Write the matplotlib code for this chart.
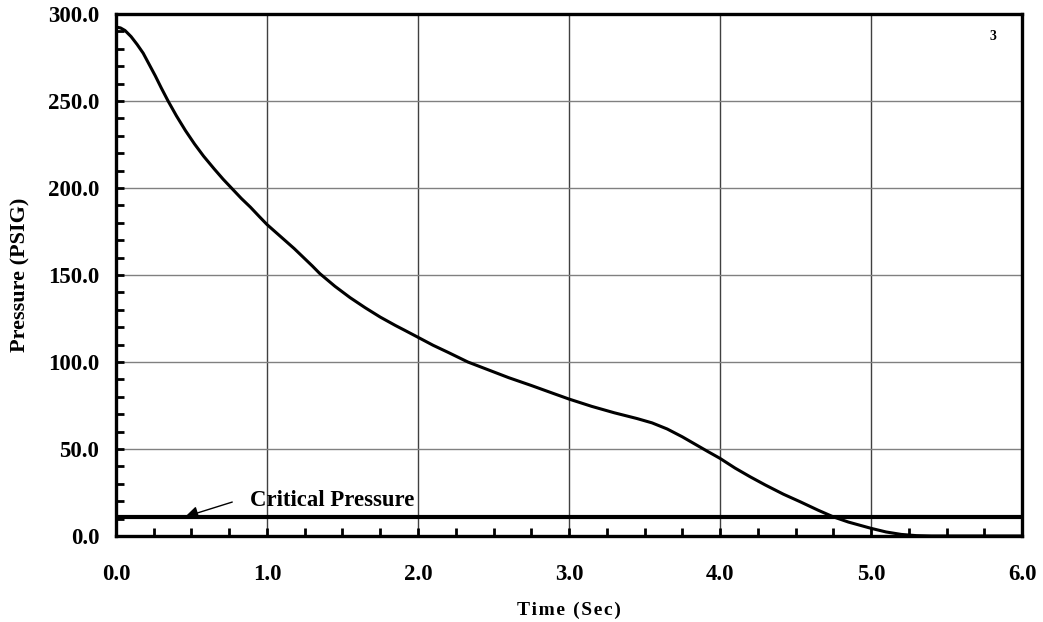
import numpy as np
import matplotlib.pyplot as plt
from matplotlib.ticker import MultipleLocator, FormatStrFormatter

# pressure decay readings
time_sec = [0.0, 0.03, 0.06, 0.10, 0.14, 0.18, 0.22, 0.26, 0.30, 0.345, 0.40,
            0.46, 0.52, 0.58, 0.65, 0.71, 0.77, 0.83, 0.89, 0.95, 1.0, 1.06,
            1.12, 1.18, 1.24, 1.30, 1.35, 1.45, 1.55, 1.65, 1.75, 1.85, 1.91,
            2.0, 2.1, 2.2, 2.33, 2.45, 2.6, 2.75, 2.9, 3.0, 3.15, 3.3, 3.45,
            3.55, 3.65, 3.75, 3.85, 3.92, 4.0, 4.1, 4.2, 4.3, 4.42, 4.53, 4.65,
            4.75, 4.85, 5.0, 5.1, 5.2, 5.3, 5.4, 6.0]
pressure_psig = [292.5, 292, 290.5, 287, 282.5, 277.5, 271, 264.5, 257.5, 250, 241.5,
                 233, 225.3, 218.3, 211, 205, 199.5, 194, 189, 183.5, 179, 174.4,
                 169.8, 165.2, 160.2, 155.2, 150.8, 143.5, 137, 131.2, 125.8, 121, 118.3,
                 114.2, 109.6, 105.5, 100, 96, 91, 86.5, 81.8, 78.7, 74.5, 70.8, 67.5,
                 65, 61.5, 57, 52, 48.5, 44.6, 39, 34, 29.3, 24, 19.7, 14.8,
                 11, 8, 4.4, 2.3, 0.9, 0.2, 0, 0]
critical_pressure = 11.0

plt.rcParams['font.family'] = ['Liberation Serif', 'DejaVu Serif']
plt.rcParams['font.weight'] = 'bold'

fig = plt.figure(figsize=(10.43, 6.22), dpi=100)
ax = fig.add_axes([0.1112, 0.1383, 0.8687, 0.8392])

ax.grid(True, axis='y', color='#808080', lw=1.0)
ax.grid(True, axis='x', color='#404040', lw=1.0)
ax.set_axisbelow(True)

ax.axhline(critical_pressure, color='black', lw=3.0, zorder=3)
ax.plot(time_sec, pressure_psig, color='black', lw=2.2, zorder=4,
        solid_joinstyle='round')

ax.annotate('', xy=(0.457, critical_pressure), xytext=(0.77, 19.5),
            arrowprops=dict(arrowstyle='-|>', color='black', lw=1.0,
                            mutation_scale=20, shrinkA=0, shrinkB=0), zorder=5)
ax.text(0.887, 20.6, 'Critical Pressure', fontsize=16.4, fontweight='bold',
        va='center', ha='left')
ax.text(5.81, 287, '3', fontsize=10, fontweight='bold', va='center', ha='center')

ax.set_xlim(0, 6)
ax.set_ylim(0, 300)
ax.xaxis.set_major_locator(MultipleLocator(1.0))
ax.xaxis.set_minor_locator(MultipleLocator(0.25))
ax.yaxis.set_major_locator(MultipleLocator(50))
ax.yaxis.set_minor_locator(MultipleLocator(10))
ax.xaxis.set_major_formatter(FormatStrFormatter('%.1f'))
ax.yaxis.set_major_formatter(FormatStrFormatter('%.1f'))

ax.tick_params(which='both', direction='in', length=6, width=2.0,
               top=False, right=False)
ax.tick_params(axis='x', which='major', pad=20, labelsize=16.5)
ax.tick_params(axis='y', which='major', pad=12, labelsize=16.5)

for s in ax.spines.values():
    s.set_linewidth(2.4)
    s.set_zorder(6)

# letter-spaced axis title, as in the original report style
ax.set_xlabel('\u200a'.join('Time (Sec)'), fontsize=14, fontweight='bold')
ax.xaxis.set_label_coords(0.5, -0.125)
ax.set_ylabel('Pressure (PSIG)', fontsize=16, fontweight='bold')
ax.yaxis.set_label_coords(-0.094, 0.5)

fig.savefig('out.png', dpi=100)
